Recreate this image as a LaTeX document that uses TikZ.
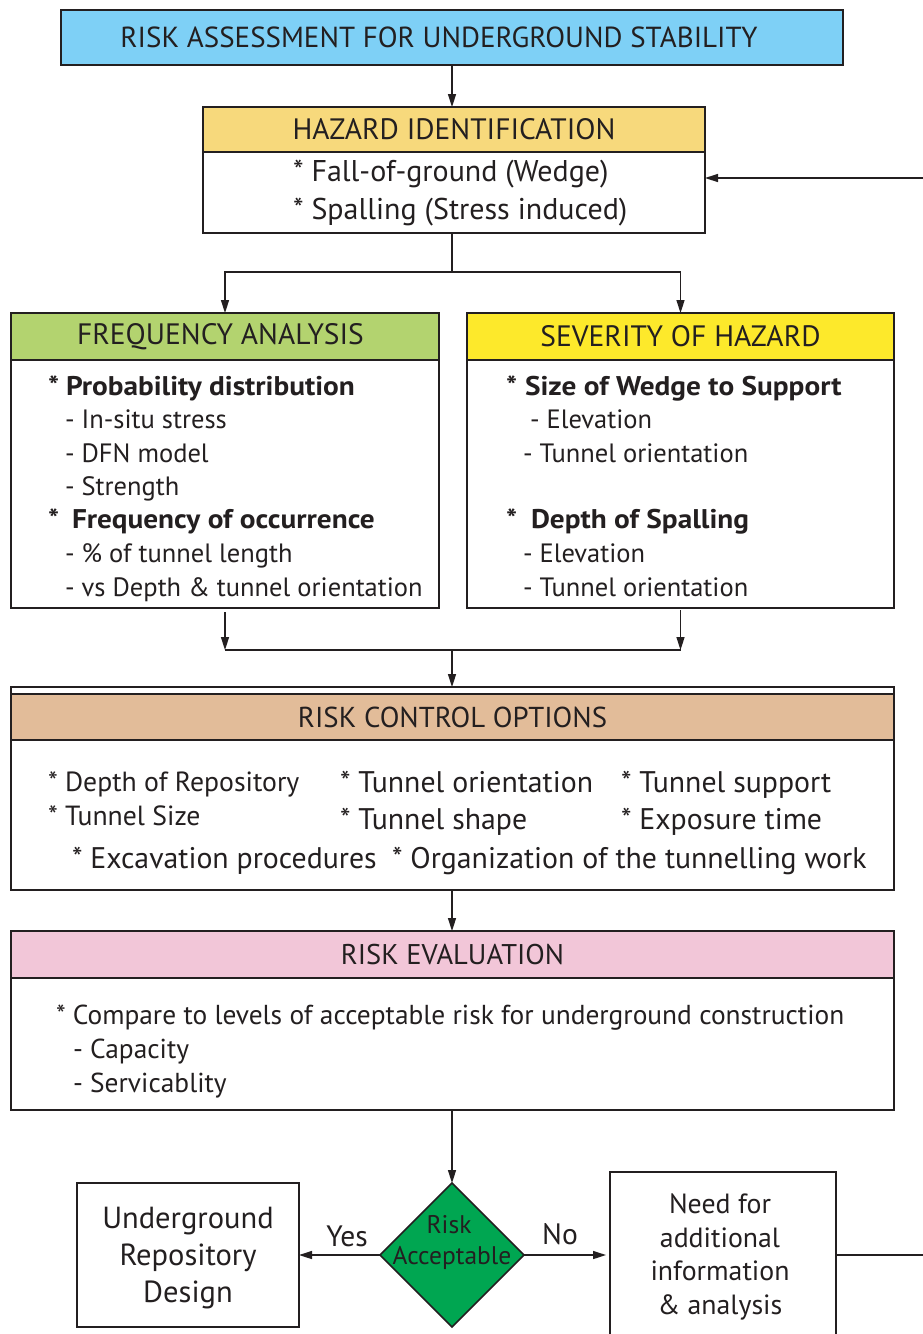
\documentclass[tikz,border=0pt]{standalone}
\usepackage{fontspec}
\setmainfont{PT Sans}
\newfontfamily\widebf[FakeStretch=1.085]{PT Sans}
\usetikzlibrary{arrows.meta,shapes.geometric}
\definecolor{ink}{HTML}{231F20}
\definecolor{cTitle}{HTML}{7ED0F6}
\definecolor{cHaz}{HTML}{F7D97C}
\definecolor{cFreq}{HTML}{B3D36F}
\definecolor{cSev}{HTML}{FDE92B}
\definecolor{cRco}{HTML}{E2BC99}
\definecolor{cEval}{HTML}{F2C6D8}
\definecolor{cDia}{HTML}{00A651}
\tikzset{
  box/.style={draw=ink, line width=2.4pt, rectangle, inner sep=0pt, outer sep=0pt, anchor=north west},
  hdr/.style={draw=ink, line width=1.4pt, rectangle, inner sep=0pt, outer sep=0pt, anchor=north west, text=ink},
  txt/.style={inner sep=0pt, outer sep=0pt, anchor=base west, text=ink},
  ctxt/.style={inner sep=0pt, outer sep=0pt, anchor=base, text=ink},
  conn/.style={draw=ink, line width=1.5pt},
  arr/.style={conn, -{Triangle[length=13pt,width=8pt]}},
  bodyf/.style={font=\fontsize{26.5}{30}\selectfont},
  boldf/.style={font=\widebf\fontsize{27}{30}\selectfont\bfseries},
  hdrf/.style={font=\fontsize{29.5}{30}\selectfont},
  rcof/.style={font=\fontsize{29.8}{30}\selectfont},
  evalf/.style={font=\fontsize{27.4}{30}\selectfont},
}
\begin{document}
\begin{tikzpicture}[x=1pt,y=-1pt]
\clip (0,0) rectangle (923,1334);
\fill[white] (0,0) rectangle (923,1334);
% title
\node[box, fill=cTitle, minimum width=782pt, minimum height=55pt, text=ink, font=\fontsize{29}{30}\selectfont] (title) at (61,10) {RISK ASSESSMENT FOR UNDERGROUND STABILITY\hspace*{26pt}};
% hazard identification
\node[hdr, fill=cHaz, minimum width=502pt, minimum height=45pt, hdrf] (hazh) at (203,107) {HAZARD IDENTIFICATION};
\node[box, minimum width=502pt, minimum height=126pt] (haz) at (203,107) {};
\node[txt, font=\fontsize{30}{30}\selectfont] (haz1) at (293,181) {* Fall-of-ground (Wedge)};
\node[txt, font=\fontsize{30}{30}\selectfont] (haz2) at (293,219) {* Spalling (Stress induced)};
% frequency analysis
\node[hdr, fill=cFreq, minimum width=428pt, minimum height=47pt, hdrf] (freqh) at (11,313) {FREQUENCY ANALYSIS\hspace*{9pt}};
\node[box, minimum width=428pt, minimum height=295pt] (freq) at (11,313) {};
\node[txt, boldf] (f1) at (48,395) {*};
\node[txt, boldf] (f1b) at (66,395) {Probability distribution};
\node[txt, bodyf] (f2) at (65,428) {- In-situ stress};
\node[txt, bodyf] (f3) at (65,462) {- DFN model};
\node[txt, bodyf] (f4) at (65,495) {- Strength};
\node[txt, boldf] (f5) at (48,528) {*};
\node[txt, boldf] (f5b) at (72,528) {Frequency of occurrence};
\node[txt, bodyf] (f6) at (65,562) {- \% of tunnel length};
\node[txt, bodyf] (f7) at (65,596) {- vs Depth \& tunnel orientation};
% severity of hazard
\node[hdr, fill=cSev, minimum width=427pt, minimum height=47pt, hdrf] (sevh) at (467,313) {SEVERITY OF HAZARD};
\node[box, minimum width=427pt, minimum height=295pt] (sev) at (467,313) {};
\node[txt, boldf] (s1) at (506,395) {*};
\node[txt, boldf] (s1b) at (525,395) {Size of Wedge to Support};
\node[txt, bodyf] (s2) at (530,428) {- Elevation};
\node[txt, bodyf] (s3) at (523,462) {- Tunnel orientation};
\node[txt, boldf] (s4) at (506,528) {*};
\node[txt, boldf] (s4b) at (531,528) {Depth of Spalling};
\node[txt, bodyf] (s5) at (523,562) {- Elevation};
\node[txt, bodyf] (s6) at (523,596) {- Tunnel orientation};
% risk control options
\node[hdr, fill=cRco, minimum width=883pt, minimum height=46pt, font=\fontsize{28.8}{30}\selectfont] (rcoh) at (11,694) {RISK CONTROL OPTIONS};
\node[box, minimum width=883pt, minimum height=203pt] (rco) at (11,687) {};
\node[txt, font=\fontsize{27.7}{30}\selectfont] (r1) at (48,791) {* Depth of Repository};
\node[txt, font=\fontsize{27.7}{30}\selectfont] (r2) at (48,825) {* Tunnel Size};
\node[txt, rcof] (r3) at (340,792) {* Tunnel orientation};
\node[txt, rcof] (r4) at (340,829) {* Tunnel shape};
\node[txt, rcof] (r5) at (621,792) {* Tunnel support};
\node[txt, rcof] (r6) at (621,829) {* Exposure time};
\node[txt, rcof] (r7) at (72,868) {* Excavation procedures};
\node[txt, rcof] (r8) at (392,868) {* Organization of the tunnelling work};
% risk evaluation
\node[hdr, fill=cEval, minimum width=883pt, minimum height=47pt, font=\fontsize{28.5}{30}\selectfont] (evalh) at (11,931) {RISK EVALUATION};
\node[box, minimum width=883pt, minimum height=179pt] (eval) at (11,931) {};
\node[txt, evalf] (e1) at (56,1024) {* Compare to levels of acceptable risk for underground construction};
\node[txt, evalf] (e2) at (73,1058) {- Capacity};
\node[txt, evalf] (e3) at (73,1092) {- Servicablity};
% decision
\node[diamond, draw=ink, line width=1.6pt, fill=cDia, minimum width=144pt, minimum height=144pt, inner sep=0pt, outer sep=0pt] (dia) at (452,1255) {};
\node[ctxt, font=\fontsize{25.5}{30}\selectfont] (dia1) at (449,1233) {Risk};
\node[ctxt, font=\fontsize{25.5}{30}\selectfont] (dia2) at (452,1264) {Acceptable};
% outcome boxes
\node[box, line width=2pt, minimum width=222pt, minimum height=144pt] (urd) at (77,1183) {};
\node[ctxt, font=\fontsize{30.5}{30}\selectfont] (u1) at (188,1228) {Underground};
\node[ctxt, font=\fontsize{30.5}{30}\selectfont] (u2) at (188,1265) {Repository};
\node[ctxt, font=\fontsize{30.5}{30}\selectfont] (u3) at (188,1302) {Design};
\node[box, line width=2pt, minimum width=226pt, minimum height=175pt] (need) at (610,1172) {};
\node[ctxt, font=\fontsize{27.8}{30}\selectfont] (n1) at (720,1213) {Need for};
\node[ctxt, font=\fontsize{27.8}{30}\selectfont] (n2) at (720,1247) {additional};
\node[ctxt, font=\fontsize{27.8}{30}\selectfont] (n3) at (720,1280) {information};
\node[ctxt, font=\fontsize{27.8}{30}\selectfont] (n4) at (720,1314) {\& analysis};
% connectors
\coordinate (sp) at (452,272);
\coordinate (mg) at (452,650);
\coordinate (lpa) at (940,1255);
\coordinate (lpb) at (940,178);
\draw[arr] (title.south -| sp) -- (haz.north -| sp);
\draw[conn] (haz.south -| sp) -- (sp);
\draw[arr] (sp) -| (freq.north);
\draw[arr] (sp) -| (sev.north);
\draw[arr] ([yshift=-4pt]freq.south) -- (freq.south |- mg);
\draw[arr] ([yshift=-2pt]sev.south) -- (sev.south |- mg);
\draw[conn] (freq.south |- mg) -- (sev.south |- mg);
\draw[arr] (mg) -- (rco.north -| mg);
\draw[arr] (rco.south -| mg) -- (eval.north -| mg);
\draw[arr] (eval.south -| mg) -- (dia.north);
\draw[arr] (dia.west) -- (urd.east);
\node[ctxt, font=\fontsize{29.5}{30}\selectfont] (yes) at (347,1246) {Yes};
\draw[arr] (dia.east) -- ([xshift=-4pt]need.west |- dia.east);
\node[ctxt, font=\fontsize{29.5}{30}\selectfont] (no) at (560,1244) {No};
\draw[arr] (need.east |- dia.east) -- (lpa) -- (lpb) -- (haz.east |- lpb);
\end{tikzpicture}
\end{document}
